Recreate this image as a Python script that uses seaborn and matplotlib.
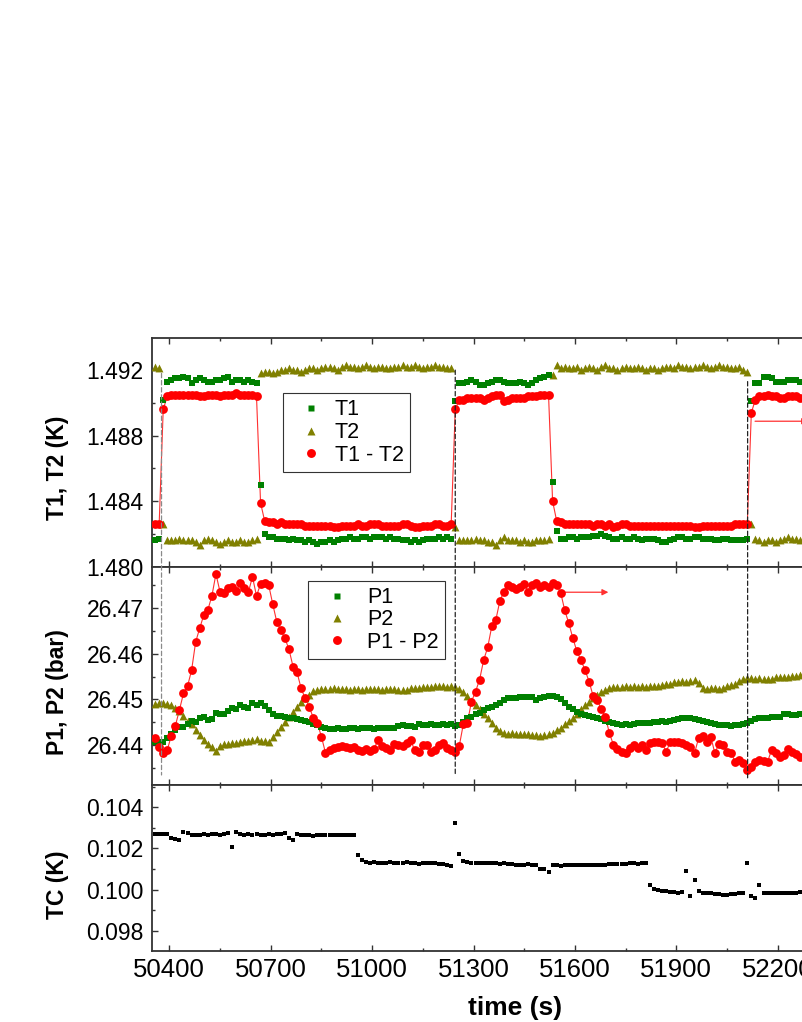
import numpy as np
import matplotlib
matplotlib.use('Agg')
import matplotlib.pyplot as plt
import seaborn as sns
from matplotlib.patches import ConnectionPatch
from matplotlib.lines import Line2D
from matplotlib.ticker import MultipleLocator, FormatStrFormatter

sns.set_style('ticks')
plt.rcParams['font.family'] = ['Liberation Sans', 'DejaVu Sans']
plt.rcParams['text.color'] = 'black'
plt.rcParams['axes.labelcolor'] = 'black'
plt.rcParams['xtick.labelcolor'] = 'black'
plt.rcParams['ytick.labelcolor'] = 'black'

# ---------------- data ----------------
t_start = 50358
dt = 12
n_pts = 160
time_s = t_start + dt * np.arange(n_pts)

T1 = ([1.4816, 1.4817] + [1.4902] +
      [1.4913, 1.4914, 1.4915, 1.4915, 1.4916, 1.4915, 1.4912, 1.4914, 1.4915, 1.4914,
       1.4913, 1.4913, 1.4914, 1.4914, 1.4915, 1.4916, 1.4913, 1.4914, 1.4914, 1.4913,
       1.4914, 1.4913, 1.4912] +
      [1.4850, 1.4820] +
      [1.4818, 1.4818, 1.4817, 1.4817, 1.4817, 1.4816, 1.4817, 1.4816, 1.4816, 1.4815,
       1.4816, 1.4815, 1.4814, 1.4815, 1.4815, 1.4816, 1.4815, 1.4816, 1.4817, 1.4817,
       1.4818, 1.4817, 1.4817, 1.4818, 1.4818, 1.4817, 1.4818, 1.4818, 1.4818, 1.4817,
       1.4818, 1.4817, 1.4817, 1.4816, 1.4816, 1.4815, 1.4816, 1.4815, 1.4816, 1.4817,
       1.4817, 1.4817, 1.4818, 1.4817, 1.4818, 1.4817] +
      [1.4901] +
      [1.4912, 1.4912, 1.4913, 1.4914, 1.4913, 1.4911, 1.4911, 1.4912, 1.4913, 1.4914,
       1.4914, 1.4913, 1.4912, 1.4912, 1.4912, 1.4913, 1.4912, 1.4911, 1.4912, 1.4914,
       1.4915, 1.4916, 1.4917] +
      [1.4852, 1.4822] +
      [1.4817, 1.4817, 1.4818, 1.4818, 1.4817, 1.4818, 1.4818, 1.4818, 1.4819, 1.4819,
       1.4820, 1.4819, 1.4818, 1.4817, 1.4817, 1.4818, 1.4817, 1.4817, 1.4818, 1.4817,
       1.4816, 1.4817, 1.4817, 1.4817, 1.4816, 1.4815, 1.4815, 1.4816, 1.4817, 1.4818,
       1.4818, 1.4817, 1.4817, 1.4818, 1.4818, 1.4817, 1.4817, 1.4817, 1.4816, 1.4816,
       1.4817, 1.4817, 1.4816, 1.4816, 1.4816, 1.4816, 1.4817] +
      [1.4901] +
      [1.4912, 1.4912, 1.4916, 1.4916, 1.4915, 1.4913, 1.4913, 1.4913, 1.4914, 1.4914,
       1.4914, 1.4913])

T2 = ([1.4922, 1.4921] + [1.4826] +
      [1.4816, 1.4816, 1.4816, 1.4817, 1.4816, 1.4816, 1.4816, 1.4815, 1.4813, 1.4816,
       1.4817, 1.4816, 1.4815, 1.4814, 1.4815, 1.4816, 1.4815, 1.4815, 1.4816, 1.4815,
       1.4815, 1.4816, 1.4817] +
      [1.4918, 1.4919, 1.4919, 1.4918, 1.4919, 1.4920, 1.4920, 1.4921, 1.4920, 1.4920,
       1.4919, 1.4920, 1.4921, 1.4921, 1.4920, 1.4921, 1.4922, 1.4922, 1.4921, 1.4920,
       1.4922, 1.4923, 1.4922, 1.4922, 1.4921, 1.4922, 1.4923, 1.4922, 1.4921, 1.4922,
       1.4922, 1.4921, 1.4921, 1.4922, 1.4922, 1.4923, 1.4922, 1.4922, 1.4923, 1.4922,
       1.4921, 1.4922, 1.4922, 1.4923, 1.4922, 1.4922, 1.4921, 1.4921] +
      [1.4824] +
      [1.4816, 1.4816, 1.4816, 1.4816, 1.4817, 1.4816, 1.4816, 1.4815, 1.4815, 1.4813,
       1.4816, 1.4818, 1.4816, 1.4816, 1.4816, 1.4815, 1.4816, 1.4815, 1.4815, 1.4816,
       1.4816, 1.4816, 1.4817] +
      [1.4917] +
      [1.4923, 1.4921, 1.4922, 1.4921, 1.4921, 1.4922, 1.4920, 1.4921, 1.4922, 1.4921,
       1.4920, 1.4922, 1.4923, 1.4921, 1.4921, 1.4920, 1.4921, 1.4922, 1.4921, 1.4921,
       1.4922, 1.4921, 1.4920, 1.4921, 1.4921, 1.4920, 1.4921, 1.4922, 1.4922, 1.4921,
       1.4923, 1.4922, 1.4922, 1.4921, 1.4922, 1.4922, 1.4923, 1.4922, 1.4921, 1.4922,
       1.4923, 1.4922, 1.4922, 1.4921, 1.4921, 1.4922, 1.4920, 1.4919] +
      [1.4826] +
      [1.4817, 1.4816, 1.4815, 1.4816, 1.4816, 1.4815, 1.4816, 1.4817, 1.4818, 1.4817,
       1.4817, 1.4816])

T1_T2 = ([1.4826, 1.4826] + [1.4896] +
         [1.4904, 1.4905, 1.4905, 1.4905, 1.4905, 1.4905, 1.4905, 1.4905, 1.4904, 1.4904,
          1.4905, 1.4905, 1.4905, 1.4904, 1.4905, 1.4905, 1.4905, 1.4906, 1.4905, 1.4905,
          1.4905, 1.4905, 1.4904] +
         [1.4839, 1.4828] +
         [1.4827, 1.4827, 1.4826, 1.4827, 1.4826, 1.4826, 1.4826, 1.4826, 1.4826, 1.4825,
          1.4825, 1.4825, 1.4825, 1.4825, 1.4825, 1.4825, 1.4824, 1.4824, 1.4825, 1.4825,
          1.4825, 1.4825, 1.4826, 1.4825, 1.4825, 1.4826, 1.4826, 1.4826, 1.4825, 1.4825,
          1.4825, 1.4825, 1.4825, 1.4826, 1.4826, 1.4825, 1.4824, 1.4824, 1.4825, 1.4825,
          1.4825, 1.4826, 1.4826, 1.4825, 1.4825, 1.4826] +
         [1.4896] +
         [1.4902, 1.4902, 1.4903, 1.4903, 1.4903, 1.4903, 1.4902, 1.4903, 1.4904, 1.4905,
          1.4905, 1.4901, 1.4902, 1.4903, 1.4903, 1.4903, 1.4903, 1.4904, 1.4904, 1.4904,
          1.4905, 1.4905, 1.4905] +
         [1.4840, 1.4828] +
         [1.4827, 1.4826, 1.4826, 1.4826, 1.4826, 1.4826, 1.4826, 1.4826, 1.4825, 1.4826,
          1.4826, 1.4825, 1.4826, 1.4824, 1.4825, 1.4826, 1.4826, 1.4825, 1.4825, 1.4825,
          1.4825, 1.4825, 1.4825, 1.4825, 1.4825, 1.4825, 1.4825, 1.4825, 1.4825, 1.4825,
          1.4825, 1.4825, 1.4825, 1.4824, 1.4824, 1.4825, 1.4825, 1.4825, 1.4825, 1.4825,
          1.4825, 1.4825, 1.4825, 1.4826, 1.4826, 1.4826, 1.4826] +
         [1.4894] +
         [1.4902, 1.4904, 1.4904, 1.4905, 1.4904, 1.4904, 1.4903, 1.4903, 1.4904, 1.4904,
          1.4904, 1.4903])

P1 = ([26.4406, 26.4407, 26.4407, 26.4415, 26.4423, 26.4433, 26.4440, 26.4440, 26.4446, 26.4453,
       26.4451, 26.4459, 26.4461, 26.4455, 26.4456, 26.4471, 26.4468, 26.4468, 26.4475, 26.4480,
       26.4478, 26.4488, 26.4483, 26.4480, 26.4493, 26.4488, 26.4491, 26.4486, 26.4477, 26.4468,
       26.4464] +
      [26.4464, 26.4462, 26.4460, 26.4458, 26.4456, 26.4455, 26.4452, 26.4450, 26.4446, 26.4443,
       26.4440, 26.4437, 26.4435] +
      [26.4435, 26.4436, 26.4434, 26.4435, 26.4437, 26.4436, 26.4435, 26.4436, 26.4437, 26.4436,
       26.4435, 26.4437, 26.4438, 26.4437, 26.4436, 26.4438, 26.4441, 26.4443, 26.4442, 26.4441,
       26.4440, 26.4445, 26.4444, 26.4443, 26.4445, 26.4444, 26.4444, 26.4445, 26.4444, 26.4445] +
      [26.4442, 26.4443, 26.4451, 26.4458, 26.4462, 26.4468, 26.4471, 26.4477, 26.4480, 26.4484,
       26.4488, 26.4491, 26.4498, 26.4502, 26.4503, 26.4502, 26.4505, 26.4506, 26.4505, 26.4506,
       26.4499, 26.4502, 26.4506, 26.4507, 26.4508, 26.4505, 26.4500] +
      [26.4491, 26.4484, 26.4478, 26.4473, 26.4468, 26.4466, 26.4464, 26.4462, 26.4459, 26.4456,
       26.4453, 26.4450, 26.4447, 26.4445, 26.4444] +
      [26.4446, 26.4444, 26.4445, 26.4448, 26.4449, 26.4448, 26.4449, 26.4451, 26.4451, 26.4453,
       26.4451, 26.4453, 26.4454, 26.4456, 26.4459, 26.4458, 26.4459, 26.4457, 26.4455, 26.4453,
       26.4451, 26.4449, 26.4446, 26.4444, 26.4443, 26.4443, 26.4442, 26.4443, 26.4444, 26.4446,
       26.4449, 26.4453, 26.4456, 26.4459, 26.4459, 26.4458, 26.4461, 26.4462, 26.4462, 26.4468,
       26.4467, 26.4465, 26.4466, 26.4467])

P2 = ([26.4490, 26.4492, 26.4493, 26.4490, 26.4487, 26.4482, 26.4474, 26.4463, 26.4452, 26.4445,
       26.4432, 26.4422, 26.4411, 26.4402, 26.4395, 26.4387, 26.4398, 26.4401, 26.4403, 26.4405,
       26.4405, 26.4407, 26.4408, 26.4408, 26.4410, 26.4413, 26.4408, 26.4409, 26.4407, 26.4418,
       26.4429, 26.4440, 26.4451, 26.4462, 26.4473, 26.4484, 26.4495, 26.4502, 26.4510, 26.4519,
       26.4521, 26.4522] +
      [26.4523, 26.4522, 26.4524, 26.4523, 26.4522, 26.4522, 26.4521, 26.4522, 26.4522, 26.4521,
       26.4522, 26.4523, 26.4522, 26.4522, 26.4521, 26.4523, 26.4522, 26.4522, 26.4521, 26.4520,
       26.4521, 26.4524, 26.4524, 26.4525, 26.4527, 26.4528, 26.4528, 26.4529, 26.4529, 26.4529,
       26.4528] +
      [26.4529, 26.4527, 26.4522, 26.4515, 26.4507, 26.4497, 26.4488, 26.4478, 26.4468, 26.4458,
       26.4447, 26.4436, 26.4430, 26.4426, 26.4425, 26.4426, 26.4424, 26.4425, 26.4424, 26.4423,
       26.4422, 26.4421, 26.4420, 26.4422, 26.4424, 26.4427, 26.4432, 26.4438, 26.4445, 26.4452,
       26.4460, 26.4468, 26.4478, 26.4488, 26.4495, 26.4503, 26.4510, 26.4516, 26.4521, 26.4524,
       26.4526, 26.4527, 26.4528] +
      [26.4529, 26.4528, 26.4529, 26.4528, 26.4529, 26.4528, 26.4530, 26.4529, 26.4530, 26.4532,
       26.4534, 26.4534, 26.4537, 26.4538, 26.4540, 26.4538, 26.4541, 26.4543, 26.4535, 26.4525,
       26.4522, 26.4524, 26.4524, 26.4523, 26.4524, 26.4529, 26.4532, 26.4534, 26.4540, 26.4545,
       26.4546, 26.4546, 26.4545, 26.4546, 26.4545, 26.4544, 26.4544, 26.4548, 26.4548, 26.4550,
       26.4550, 26.4551, 26.4552, 26.4554])

P1_P2 = ([26.4415, 26.4396, 26.4383, 26.4389, 26.4420, 26.4442, 26.4477, 26.4513, 26.4529, 26.4564,
          26.4626, 26.4656, 26.4685, 26.4696, 26.4727, 26.4775, 26.4736, 26.4733, 26.4744, 26.4747,
          26.4738, 26.4755, 26.4744, 26.4735, 26.4769, 26.4727, 26.4753, 26.4756, 26.4751, 26.4709,
          26.4670, 26.4652] +
         [26.4634, 26.4610, 26.4572, 26.4559, 26.4524, 26.4502, 26.4484, 26.4459, 26.4448, 26.4418] +
         [26.4383, 26.4388, 26.4394, 26.4395, 26.4398, 26.4396, 26.4393, 26.4395, 26.4389, 26.4386,
          26.4391, 26.4386, 26.4392, 26.4411, 26.4398, 26.4393, 26.4389, 26.4402, 26.4400, 26.4398,
          26.4404, 26.4411, 26.4388, 26.4385, 26.4400, 26.4400, 26.4385, 26.4389, 26.4400, 26.4405,
          26.4393, 26.4388] +
         [26.4385, 26.4398, 26.4446, 26.4449, 26.4495, 26.4517, 26.4543, 26.4586, 26.4614, 26.4660,
          26.4674, 26.4716, 26.4736, 26.4751, 26.4747, 26.4741, 26.4747, 26.4753, 26.4736, 26.4751,
          26.4756, 26.4747, 26.4751, 26.4747, 26.4755, 26.4751, 26.4734, 26.4695, 26.4667, 26.4634,
          26.4605, 26.4586, 26.4564] +
         [26.4539, 26.4507, 26.4499, 26.4478, 26.4462, 26.4426, 26.4400, 26.4390, 26.4385] +
         [26.4383, 26.4393, 26.4400, 26.4393, 26.4400, 26.4389, 26.4404, 26.4406, 26.4406, 26.4404,
          26.4385, 26.4406, 26.4407, 26.4406, 26.4404, 26.4400, 26.4396, 26.4382, 26.4415, 26.4420,
          26.4407, 26.4418, 26.4382, 26.4402, 26.4400, 26.4385, 26.4383, 26.4363, 26.4367, 26.4360,
          26.4345, 26.4352, 26.4363, 26.4367, 26.4365, 26.4363, 26.4389, 26.4382, 26.4374, 26.4378,
          26.4391, 26.4385, 26.4380, 26.4374])

TC = ([0.10272, 0.10270, 0.10272, 0.10270, 0.10250, 0.10245, 0.10240, 0.10278, 0.10275, 0.10268,
       0.10266, 0.10268, 0.10270, 0.10268, 0.10270, 0.10270, 0.10268, 0.10272, 0.10275, 0.10208,
       0.10278, 0.10270, 0.10268, 0.10270, 0.10268, 0.10270, 0.10268, 0.10266, 0.10270, 0.10268,
       0.10270, 0.10272, 0.10276, 0.10252, 0.10242, 0.10270, 0.10268, 0.10266, 0.10264, 0.10262,
       0.10265, 0.10266, 0.10265, 0.10266, 0.10265, 0.10266, 0.10265, 0.10268, 0.10266, 0.10268] +
      [0.10166, 0.10145,
       0.10135, 0.10130, 0.10132, 0.10130, 0.10128, 0.10130, 0.10132, 0.10130, 0.10128, 0.10130,
       0.10132, 0.10130, 0.10128, 0.10126, 0.10128, 0.10130, 0.10128, 0.10130, 0.10126, 0.10124,
       0.10120, 0.10114] +
      [0.10325, 0.10172, 0.10140,
       0.10132, 0.10130, 0.10130, 0.10128, 0.10130, 0.10130, 0.10128, 0.10128, 0.10126, 0.10128,
       0.10126, 0.10124, 0.10122, 0.10120, 0.10122, 0.10124, 0.10122, 0.10120,
       0.10100, 0.10098, 0.10085] +
      [0.10122, 0.10118, 0.10116, 0.10118, 0.10120, 0.10118, 0.10120, 0.10122, 0.10120, 0.10118,
       0.10120, 0.10122, 0.10120, 0.10122, 0.10124, 0.10124, 0.10126, 0.10126, 0.10126, 0.10128,
       0.10128, 0.10126, 0.10128, 0.10128] +
      [0.10021, 0.10002, 0.09998, 0.09995, 0.09993, 0.09990, 0.09988, 0.09985, 0.09988, 0.10091,
       0.09967, 0.10049, 0.09993,
       0.09985, 0.09985, 0.09983, 0.09980, 0.09978, 0.09976, 0.09976, 0.09978, 0.09980, 0.09982,
       0.09985,
       0.10130, 0.09967, 0.09957, 0.10021,
       0.09983, 0.09982, 0.09983, 0.09982, 0.09982, 0.09983, 0.09984, 0.09984, 0.09985, 0.09986])

for _name, _s in [('T1', T1), ('T2', T2), ('T1_T2', T1_T2), ('P1', P1), ('P2', P2),
                  ('P1_P2', P1_P2), ('TC', TC)]:
    assert len(_s) == n_pts, (_name, len(_s))

# switching events (dashed markers) and arrows
switch_t = [50377, 51246, 52111]
switch_top = [1.4918, 1.4920, 1.4913]
switch_bot = [26.4334, 26.4334, 26.4323]
switch_col = ['#8a8a8a', '#222222', '#222222']

x_ticks_major = [50400, 50700, 51000, 51300, 51600, 51900, 52200]

# ---------------- figure ----------------
W_PX, H_PX = 803, 1022
fig = plt.figure(figsize=(W_PX / 100, H_PX / 100), dpi=100)

left_px, right_px = 152, 900
px_per_s = 0.338
x_lo = 50400 - (169.3 - left_px) / px_per_s
x_hi = 50400 + (right_px - 169.3) / px_per_s

def add_ax(top_px, bot_px):
    return fig.add_axes([left_px / W_PX, 1 - bot_px / H_PX,
                         (right_px - left_px) / W_PX, (bot_px - top_px) / H_PX])

ax1 = add_ax(338, 566.7)
ax2 = add_ax(566.7, 785)
ax3 = add_ax(785, 951)

GREEN = '#008000'
OLIVE = '#808000'
RED = '#ff0000'

# top panel
sns.lineplot(x=time_s, y=T1_T2, ax=ax1, color='#ff3030', lw=0.8, sort=False,
             estimator=None, legend=False, zorder=2)
sns.scatterplot(x=time_s, y=T2, ax=ax1, marker='^', s=32, color=OLIVE, linewidth=0,
                legend=False, zorder=3)
sns.scatterplot(x=time_s, y=T1, ax=ax1, marker='s', s=24, color=GREEN, linewidth=0,
                legend=False, zorder=3)
sns.scatterplot(x=time_s, y=T1_T2, ax=ax1, marker='o', s=40, color=RED, linewidth=0,
                legend=False, zorder=4)

# middle panel
sns.lineplot(x=time_s, y=P1_P2, ax=ax2, color='#ff3030', lw=0.8, sort=False,
             estimator=None, legend=False, zorder=2)
sns.scatterplot(x=time_s, y=P2, ax=ax2, marker='^', s=32, color=OLIVE, linewidth=0,
                legend=False, zorder=3)
sns.scatterplot(x=time_s, y=P1, ax=ax2, marker='s', s=24, color=GREEN, linewidth=0,
                legend=False, zorder=3)
sns.scatterplot(x=time_s, y=P1_P2, ax=ax2, marker='o', s=40, color=RED, linewidth=0,
                legend=False, zorder=4)

# bottom panel
sns.scatterplot(x=time_s, y=TC, ax=ax3, marker='s', s=9, color='black', linewidth=0,
                legend=False, zorder=3)

# limits / ticks
ax1.set_ylim(1.480, 1.49396)
ax2.set_ylim(26.4312, 26.4791)
ax3.set_ylim(0.09701, 0.10509)

SPINE = '#333333'
for ax in (ax1, ax2, ax3):
    ax.set_xlim(x_lo, x_hi)
    ax.set_xticks(x_ticks_major)
    ax.xaxis.set_minor_locator(MultipleLocator(150))
    ax.tick_params(axis='both', which='both', direction='in', top=True, right=False,
                   color=SPINE, width=1.0, labelcolor='black')
    ax.tick_params(axis='both', which='major', length=4.2)
    ax.tick_params(axis='both', which='minor', length=2.4)
    ax.tick_params(axis='y', labelsize=16.5, pad=6)
    ax.tick_params(axis='x', labelsize=18.5, pad=5)
    for sp in ax.spines.values():
        sp.set_color(SPINE)
        sp.set_linewidth(1.3)
    ax.set_xlabel('')
    ax.set_ylabel('')

ax1.tick_params(axis='x', labelbottom=False)
ax2.tick_params(axis='x', labelbottom=False)

ax1.yaxis.set_major_locator(MultipleLocator(0.004))
ax1.yaxis.set_minor_locator(MultipleLocator(0.002))
ax1.yaxis.set_major_formatter(FormatStrFormatter('%.3f'))
ax2.yaxis.set_major_locator(MultipleLocator(0.01))
ax2.yaxis.set_minor_locator(MultipleLocator(0.005))
ax2.yaxis.set_major_formatter(FormatStrFormatter('%.2f'))
ax3.yaxis.set_major_locator(MultipleLocator(0.002))
ax3.yaxis.set_minor_locator(MultipleLocator(0.001))
ax3.yaxis.set_major_formatter(FormatStrFormatter('%.3f'))

# axis labels
lab_x = (58 - left_px) / (right_px - left_px)
ax1.set_ylabel('T1, T2 (K)', fontsize=16.5, fontweight='bold', va='center', color='black')
ax1.yaxis.set_label_coords(lab_x, 0.434)
ax2.set_ylabel('P1, P2 (bar)', fontsize=16.5, fontweight='bold', va='center', color='black')
ax2.yaxis.set_label_coords(lab_x, 0.424)
ax3.set_ylabel('TC (K)', fontsize=16.5, fontweight='bold', va='center', color='black')
ax3.yaxis.set_label_coords(lab_x, 0.402)
ax3.set_xlabel('time (s)', fontsize=19, fontweight='bold', va='center', color='black')
ax3.xaxis.set_label_coords((515 - left_px) / (right_px - left_px), -0.343)

# legends
def handles():
    return [Line2D([], [], ls='none', marker='s', ms=5, color=GREEN, mec='none'),
            Line2D([], [], ls='none', marker='^', ms=5.5, color=OLIVE, mec='none'),
            Line2D([], [], ls='none', marker='o', ms=6.4, color=RED, mec='none')]

leg1 = ax1.legend(handles(), ['T1', 'T2', 'T1 - T2'], loc='upper left',
                  bbox_to_anchor=(283 / W_PX, 1 - 393 / H_PX), bbox_transform=fig.transFigure,
                  frameon=True, fancybox=False, edgecolor=SPINE, framealpha=1,
                  fontsize=15.5, handlelength=2.0, handletextpad=0.1, borderpad=0.3,
                  labelspacing=0.08, borderaxespad=0)
leg1.get_frame().set_linewidth(0.8)
leg2 = ax2.legend(handles(), ['P1', 'P2', 'P1 - P2'], loc='upper left',
                  bbox_to_anchor=(308 / W_PX, 1 - 580.7 / H_PX), bbox_transform=fig.transFigure,
                  frameon=True, fancybox=False, edgecolor=SPINE, framealpha=1,
                  fontsize=15.5, handlelength=2.1, handletextpad=0.35, borderpad=0.3,
                  labelspacing=0.06, borderaxespad=0)
leg2.get_frame().set_linewidth(0.8)

# arrows pointing to the (off-page) right axis
ax1.annotate('', xy=(52290, 1.48888), xytext=(52133, 1.48888),
             arrowprops=dict(arrowstyle='-|>', color='#ff3030', lw=0.9,
                             mutation_scale=9, shrinkA=0, shrinkB=0))
ax2.annotate('', xy=(51699, 26.4735), xytext=(51571, 26.4735),
             arrowprops=dict(arrowstyle='-|>', color='#ff3030', lw=0.9,
                             mutation_scale=9, shrinkA=0, shrinkB=0))

# dashed switching lines spanning the top two panels
for ts, yt, yb, col in zip(switch_t, switch_top, switch_bot, switch_col):
    cp = ConnectionPatch(xyA=(ts, yt), coordsA=ax1.transData,
                         xyB=(ts, yb), coordsB=ax2.transData,
                         color=col, lw=0.9, ls=(0, (3.5, 2.2)), zorder=1)
    fig.add_artist(cp)

fig.savefig('out.png', dpi=100)
